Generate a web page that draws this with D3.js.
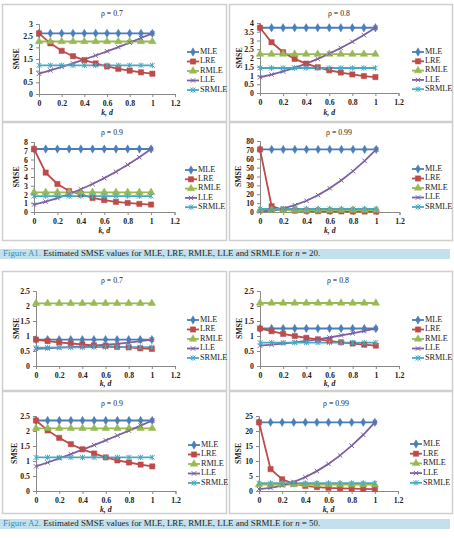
<!DOCTYPE html>
<html><head><meta charset="utf-8">
<script src="https://cdn.jsdelivr.net/npm/d3@7"></script>
<style>body{margin:0;background:#fff}svg{display:block}</style>
</head><body><svg id="c" width="454" height="538"></svg>
<script>
// ---------- DATA ----------
const kd = [0, 0.1, 0.2, 0.3, 0.4, 0.5, 0.6, 0.7, 0.8, 0.9, 1.0];
const estimators = ["MLE", "LRE", "RMLE", "LLE", "SRMLE"];
const xTicks = [0, 0.2, 0.4, 0.6, 0.8, 1, 1.2];
const rhoTitles = ["\u03c1 = 0.7", "\u03c1 = 0.8", "\u03c1 = 0.9", "\u03c1 = 0.99"];
const captions = [
  ["Figure A1.", " Estimated SMSE values for MLE, LRE, RMLE, LLE and SRMLE for ", "n", " = 20."],
  ["Figure A2.", " Estimated SMSE values for MLE, LRE, RMLE, LLE and SRMLE for ", "n", " = 50."]
];
// y-axis maxima and steps per panel
const yMaxN20 = [3, 4, 8, 80];
const yStepN20 = [0.5, 0.5, 1, 10];
const yMaxN50 = [2.5, 2.5, 2.5, 25];
const yStepN50 = [0.5, 0.5, 0.5, 5];

// series order: MLE, LRE, RMLE, LLE, SRMLE
const n20_r070 = [
  [2.6, 2.6, 2.6, 2.6, 2.6, 2.6, 2.6, 2.6, 2.6, 2.6, 2.6],
  [2.6, 2.17, 1.85, 1.62, 1.45, 1.31, 1.18, 1.08, 1.0, 0.93, 0.87],
  [2.25, 2.25, 2.25, 2.25, 2.25, 2.25, 2.25, 2.25, 2.25, 2.25, 2.25],
  [0.87, 1.01, 1.16, 1.31, 1.48, 1.65, 1.83, 2.01, 2.2, 2.4, 2.6],
  [1.23, 1.23, 1.23, 1.23, 1.23, 1.23, 1.23, 1.23, 1.23, 1.23, 1.23]
];
const n20_r080 = [
  [3.73, 3.73, 3.73, 3.73, 3.73, 3.73, 3.73, 3.73, 3.73, 3.73, 3.73],
  [3.73, 2.9, 2.33, 1.95, 1.68, 1.47, 1.3, 1.17, 1.06, 0.97, 0.91],
  [2.22, 2.22, 2.22, 2.22, 2.22, 2.22, 2.22, 2.22, 2.22, 2.22, 2.22],
  [0.9, 1.05, 1.23, 1.44, 1.68, 1.95, 2.25, 2.57, 2.93, 3.31, 3.73],
  [1.43, 1.43, 1.43, 1.43, 1.43, 1.43, 1.43, 1.43, 1.43, 1.43, 1.43]
];
const n20_r090 = [
  [7.2, 7.2, 7.2, 7.2, 7.2, 7.2, 7.2, 7.2, 7.2, 7.2, 7.2],
  [7.2, 4.5, 3.2, 2.4, 2.05, 1.6, 1.36, 1.16, 1.04, 0.93, 0.85],
  [2.25, 2.25, 2.25, 2.25, 2.25, 2.25, 2.25, 2.25, 2.25, 2.25, 2.25],
  [0.85, 1.19, 1.59, 2.06, 2.6, 3.2, 3.87, 4.6, 5.4, 6.26, 7.2],
  [1.82, 1.82, 1.82, 1.82, 1.82, 1.82, 1.82, 1.82, 1.82, 1.82, 1.82]
];
const n20_r099 = [
  [70.5, 70.5, 70.5, 70.5, 70.5, 70.5, 70.5, 70.5, 70.5, 70.5, 70.5],
  [70.5, 6.5, 2.5, 1.5, 1.1, 0.9, 0.8, 0.7, 0.6, 0.55, 0.5],
  [2.1, 2.1, 2.1, 2.1, 2.1, 2.1, 2.1, 2.1, 2.1, 2.1, 2.1],
  [0.5, 1.58, 3.97, 7.68, 12.7, 19.05, 26.7, 35.7, 46.0, 57.6, 70.5],
  [3.4, 3.4, 3.4, 3.4, 3.4, 3.4, 3.4, 3.4, 3.4, 3.4, 3.4]
];
const n50_r070 = [
  [0.88, 0.88, 0.88, 0.88, 0.88, 0.88, 0.88, 0.88, 0.88, 0.88, 0.88],
  [0.88, 0.83, 0.79, 0.75, 0.72, 0.69, 0.67, 0.64, 0.62, 0.59, 0.57],
  [2.09, 2.09, 2.09, 2.09, 2.09, 2.09, 2.09, 2.09, 2.09, 2.09, 2.09],
  [0.57, 0.59, 0.61, 0.63, 0.65, 0.68, 0.71, 0.74, 0.78, 0.83, 0.88],
  [0.61, 0.61, 0.62, 0.62, 0.62, 0.63, 0.63, 0.63, 0.63, 0.63, 0.63]
];
const n50_r080 = [
  [1.25, 1.25, 1.25, 1.25, 1.25, 1.25, 1.25, 1.25, 1.25, 1.25, 1.25],
  [1.25, 1.16, 1.07, 1.0, 0.94, 0.89, 0.84, 0.79, 0.75, 0.71, 0.68],
  [2.1, 2.1, 2.1, 2.1, 2.1, 2.1, 2.1, 2.1, 2.1, 2.1, 2.1],
  [0.68, 0.71, 0.75, 0.79, 0.84, 0.89, 0.95, 1.02, 1.09, 1.17, 1.25],
  [0.78, 0.78, 0.78, 0.78, 0.78, 0.78, 0.78, 0.78, 0.78, 0.78, 0.78]
];
const n50_r090 = [
  [2.35, 2.35, 2.35, 2.35, 2.35, 2.35, 2.35, 2.35, 2.35, 2.35, 2.35],
  [2.35, 2.02, 1.77, 1.56, 1.39, 1.25, 1.12, 1.02, 0.95, 0.88, 0.82],
  [2.09, 2.09, 2.09, 2.09, 2.09, 2.09, 2.09, 2.09, 2.09, 2.09, 2.09],
  [0.82, 0.95, 1.09, 1.23, 1.38, 1.53, 1.69, 1.85, 2.01, 2.18, 2.35],
  [1.12, 1.12, 1.12, 1.12, 1.12, 1.12, 1.12, 1.12, 1.12, 1.12, 1.12]
];
const n50_r099 = [
  [22.9, 22.9, 22.9, 22.9, 22.9, 22.9, 22.9, 22.9, 22.9, 22.9, 22.9],
  [22.9, 7.3, 3.9, 2.4, 1.7, 1.3, 1.05, 0.9, 0.8, 0.7, 0.65],
  [2.1, 2.1, 2.1, 2.1, 2.1, 2.1, 2.1, 2.1, 2.1, 2.1, 2.1],
  [0.65, 1.03, 1.82, 3.01, 4.62, 6.63, 9.04, 11.87, 15.11, 18.75, 22.9],
  [2.6, 2.6, 2.6, 2.6, 2.6, 2.6, 2.6, 2.6, 2.6, 2.6, 2.6]
];

// ---------- STYLE / LAYOUT ----------
const colors = ["#4a7ebb", "#be4b48", "#98b954", "#7d60a0", "#46aac5"];
const FONT = "'Liberation Serif','Times New Roman',serif";

const panels = [
  {d: n20_r070, t: 0, yMax: yMaxN20[0], yStep: yStepN20[0], box: [2, 4, 226, 121], x0: 39, x1: 175, y0: 94, y1: 24, tx: 112, ty: 14, ay: 113, sx: 17, lx: 187, ly: 52, ld: 9.5},
  {d: n20_r080, t: 1, yMax: yMaxN20[1], yStep: yStepN20[1], box: [229, 4, 452, 121], x0: 260, x1: 398.5, y0: 93, y1: 23, tx: 339, ty: 14, ay: 113, sx: 240, lx: 412, ly: 52, ld: 9.3},
  {d: n20_r090, t: 2, yMax: yMaxN20[2], yStep: yStepN20[2], box: [2, 122, 226, 240], x0: 34, x1: 174.5, y0: 212, y1: 142, tx: 112, ty: 133, ay: 231, sx: 17, lx: 185, ly: 170, ld: 9.3},
  {d: n20_r099, t: 3, yMax: yMaxN20[3], yStep: yStepN20[3], box: [229, 122, 452, 240], x0: 260, x1: 399.5, y0: 212, y1: 141, tx: 339, ty: 133, ay: 231, sx: 239, lx: 412, ly: 169, ld: 9.5},
  {d: n50_r070, t: 0, yMax: yMaxN50[0], yStep: yStepN50[0], box: [2, 271, 226, 390], x0: 36, x1: 175, y0: 366, y1: 291, tx: 112, ty: 281, ay: 384, sx: 17, lx: 187, ly: 320, ld: 9.5},
  {d: n50_r080, t: 1, yMax: yMaxN50[1], yStep: yStepN50[1], box: [229, 271, 452, 390], x0: 260, x1: 399, y0: 366, y1: 291, tx: 338, ty: 281, ay: 384, sx: 240, lx: 412, ly: 320, ld: 9.5},
  {d: n50_r090, t: 2, yMax: yMaxN50[2], yStep: yStepN50[2], box: [2, 391, 226, 513], x0: 36, x1: 175.5, y0: 491, y1: 416, tx: 112, ty: 404, ay: 510, sx: 15, lx: 188, ly: 445, ld: 9.5},
  {d: n50_r099, t: 3, yMax: yMaxN50[3], yStep: yStepN50[3], box: [229, 391, 452, 513], x0: 259, x1: 398, y0: 491, y1: 416, tx: 336, ty: 404, ay: 510, sx: 239, lx: 410, ly: 444, ld: 9.7}
];

const svg = d3.select("#c");

function markerPath(i) {
  switch (i) {
    case 0: return d3.symbol(d3.symbolDiamond, 20)();
    case 1: return d3.symbol(d3.symbolSquare, 28)();
    case 2: return d3.symbol(d3.symbolTriangle, 24)();
    case 3: return "M-2.2,-2.2L2.2,2.2M-2.2,2.2L2.2,-2.2";
    default: return "M-2.4,-2.4L2.4,2.4M-2.4,2.4L2.4,-2.4M0,-2.8L0,2.8";
  }
}
function drawMarker(g, i, x, y) {
  const p = g.append("path").attr("d", markerPath(i)).attr("transform", `translate(${x},${y})`);
  if (i >= 3) p.attr("fill", "none").attr("stroke", colors[i]).attr("stroke-width", 1);
  else p.attr("fill", colors[i]).attr("stroke", colors[i]).attr("stroke-width", 0.5);
}
const fmt = v => String(+v.toFixed(2));

panels.forEach(P => {
  const g = svg.append("g");
  const [bx0, by0, bx1, by1] = P.box;
  g.append("rect").attr("x", bx0 + 0.5).attr("y", by0 + 0.5)
    .attr("width", bx1 - bx0).attr("height", by1 - by0)
    .attr("fill", "#fff").attr("stroke", "#cfcfcf").attr("stroke-width", 1.5);

  const x = d3.scaleLinear().domain([0, 1.2]).range([P.x0, P.x1]);
  const y = d3.scaleLinear().domain([0, P.yMax]).range([P.y0, P.y1]);
  const yTicks = d3.range(0, P.yMax + P.yStep / 2, P.yStep);

  const xa = g.append("g").attr("transform", `translate(0,${P.y0})`)
    .call(d3.axisBottom(x).tickValues(xTicks).tickFormat(fmt).tickSize(3).tickPadding(3));
  const ya = g.append("g").attr("transform", `translate(${P.x0},0)`)
    .call(d3.axisLeft(y).tickValues(yTicks).tickFormat(fmt).tickSize(3).tickPadding(3));
  [xa, ya].forEach(a => {
    a.select(".domain").attr("stroke", "#8a8a8a").attr("stroke-width", 1);
    a.selectAll(".tick line").attr("stroke", "#8a8a8a");
    a.selectAll(".tick text").attr("font-family", FONT).attr("font-size", 7.8)
      .attr("font-weight", "bold").attr("fill", "#222");
  });

  g.append("text").attr("x", P.tx).attr("y", P.ty).attr("text-anchor", "middle")
    .attr("dominant-baseline", "middle").attr("font-family", FONT).attr("font-size", 7.8)
    .attr("fill", "#222").text(rhoTitles[P.t]);
  g.append("text").attr("x", (P.x0 + P.x1) / 2).attr("y", P.ay).attr("text-anchor", "middle")
    .attr("dominant-baseline", "middle").attr("font-family", FONT).attr("font-size", 7.8)
    .attr("font-weight", "bold").attr("font-style", "italic").attr("fill", "#222").text("k, d");
  g.append("text").attr("transform", `translate(${P.sx},${(P.y0 + P.y1) / 2}) rotate(-90)`)
    .attr("text-anchor", "middle").attr("dominant-baseline", "middle")
    .attr("font-family", FONT).attr("font-size", 7.8).attr("font-weight", "bold")
    .attr("fill", "#222").text("SMSE");

  const line = d3.line().x((d, i) => x(kd[i])).y(d => y(d));
  P.d.forEach((vals, si) => {
    g.append("path").datum(vals).attr("d", line).attr("fill", "none")
      .attr("stroke", colors[si]).attr("stroke-width", 1.8);
  });
  P.d.forEach((vals, si) => {
    vals.forEach((v, i) => drawMarker(g, si, x(kd[i]), y(v)));
  });

  estimators.forEach((name, si) => {
    const ly = P.ly + si * P.ld;
    g.append("line").attr("x1", P.lx).attr("x2", P.lx + 12).attr("y1", ly).attr("y2", ly)
      .attr("stroke", colors[si]).attr("stroke-width", 1.8);
    drawMarker(g, si, P.lx + 6, ly);
    g.append("text").attr("x", P.lx + 13).attr("y", ly).attr("dominant-baseline", "middle")
      .attr("font-family", FONT).attr("font-size", 8.2).attr("fill", "#222").text(name);
  });
});

const capY = [254, 524];
captions.forEach((c, i) => {
  svg.append("rect").attr("x", 0).attr("y", capY[i] - 5).attr("width", 450).attr("height", 10)
    .attr("fill", "#c2e1ec");
  const t = svg.append("text").attr("x", 3).attr("y", capY[i]).attr("dominant-baseline", "middle")
    .attr("font-family", FONT).attr("font-size", 8.9).attr("fill", "#222");
  t.append("tspan").attr("fill", "#3a8cc0").text(c[0]);
  t.append("tspan").text(c[1]);
  t.append("tspan").attr("font-style", "italic").text(c[2]);
  t.append("tspan").text(c[3]);
});
</script></body></html>
